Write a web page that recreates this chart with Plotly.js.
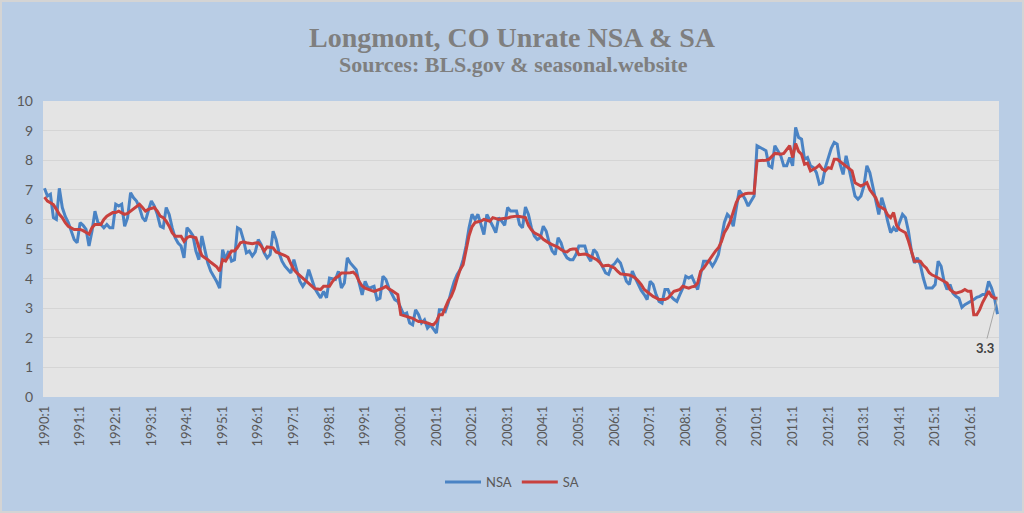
<!DOCTYPE html>
<html>
<head>
<meta charset="utf-8">
<script src="https://cdn.plot.ly/plotly-3.0.1.min.js"></script>
<style>
  html, body { margin: 0; padding: 0; background: #B9CDE5; }
  #wrap { width: 1020px; height: 509px; border: 2px solid #D4D4D4; background: #B9CDE5; }
  #chart { width: 1020px; height: 509px; }
</style>
</head>
<body>
<div id="wrap"><div id="chart"></div></div>
<script>
// Monthly categories 1990:1 .. 2016:10
const startYear = 1990, endYear = 2016, lastMonth = 10;
const categories = [];
for (let y = startYear; y <= endYear; y++) {
  for (let m = 1; m <= 12; m++) {
    if (y === endYear && m > lastMonth) break;
    categories.push(y + ':' + m);
  }
}
const tickLabels = ['1990:1','1991:1','1992:1','1993:1','1994:1','1995:1','1996:1','1997:1','1998:1','1999:1',
  '2000:1','2001:1','2002:1','2003:1','2004:1','2005:1','2006:1','2007:1','2008:1','2009:1',
  '2010:1','2011:1','2012:1','2013:1','2014:1','2015:1','2016:1'];

const nsa = [
  7.05, 6.79, 6.85, 6.06, 6.00, 7.05, 6.40, 6.10, 5.90, 5.60, 5.32, 5.21,
  5.89, 5.80, 5.66, 5.10, 5.60, 6.28, 5.89, 5.83, 5.72, 5.83, 5.72, 5.72,
  6.51, 6.45, 6.51, 5.77, 6.06, 6.90, 6.73, 6.62, 6.40, 6.06, 5.94, 6.30,
  6.62, 6.45, 6.17, 5.77, 5.72, 6.40, 6.17, 5.72, 5.38, 5.20, 5.10, 4.70,
  5.72, 5.60, 5.45, 4.93, 4.64, 5.44, 4.98, 4.53, 4.25, 4.08, 3.90, 3.68,
  4.98, 4.64, 4.93, 4.59, 4.64, 5.72, 5.66, 5.32, 4.87, 4.93, 4.76, 4.90,
  5.32, 5.15, 4.87, 4.70, 4.81, 5.60, 5.32, 4.87, 4.59, 4.42, 4.30, 4.19,
  4.64, 4.25, 3.91, 3.74, 3.90, 4.30, 3.97, 3.68, 3.51, 3.35, 3.57, 3.35,
  4.02, 4.00, 3.97, 4.25, 3.68, 3.85, 4.70, 4.53, 4.42, 4.30, 3.85, 3.45,
  3.91, 3.68, 3.70, 3.74, 3.29, 3.34, 4.08, 3.97, 3.68, 3.46, 3.29, 3.23,
  3.00, 2.78, 2.84, 2.50, 2.44, 2.95, 2.78, 2.50, 2.61, 2.33, 2.44, 2.30,
  2.16, 2.95, 2.95, 2.89, 3.18, 3.57, 3.90, 4.14, 4.30, 4.64, 5.10, 5.72,
  6.17, 6.00, 6.17, 5.83, 5.49, 6.17, 5.94, 5.77, 5.55, 6.06, 5.94, 5.80,
  6.40, 6.28, 6.28, 6.28, 5.83, 5.72, 6.42, 6.17, 5.72, 5.44, 5.32, 5.38,
  5.77, 5.60, 5.21, 4.93, 4.81, 5.38, 5.21, 4.87, 4.70, 4.64, 4.64, 4.81,
  5.10, 5.10, 5.10, 4.76, 4.59, 4.98, 4.87, 4.59, 4.36, 4.19, 4.14, 4.42,
  4.50, 4.64, 4.53, 4.25, 3.91, 3.80, 4.25, 4.02, 3.80, 3.60, 3.46, 3.29,
  3.91, 3.80, 3.46, 3.23, 3.17, 3.63, 3.63, 3.40, 3.30, 3.23, 3.46, 3.68,
  4.08, 4.02, 4.08, 3.85, 3.63, 4.14, 4.59, 4.59, 4.59, 4.42, 4.59, 4.81,
  5.40, 5.90, 6.17, 6.06, 5.77, 6.40, 6.98, 6.85, 6.68, 6.45, 6.62, 6.79,
  8.49, 8.43, 8.38, 8.32, 7.81, 7.75, 8.49, 8.32, 8.15, 7.81, 7.81, 8.09,
  7.81, 9.11, 8.77, 8.71, 8.03, 8.09, 7.81, 7.75, 7.58, 7.19, 7.24, 7.75,
  8.05, 8.40, 8.60, 8.54, 7.86, 7.52, 8.15, 7.69, 7.20, 6.79, 6.68, 6.79,
  7.13, 7.81, 7.58, 7.13, 6.68, 6.17, 6.73, 6.40, 5.94, 5.55, 5.72, 5.60,
  5.90, 6.17, 6.06, 5.60, 4.93, 4.53, 4.70, 4.47, 4.02, 3.68, 3.68, 3.68,
  3.80, 4.59, 4.42, 3.91, 3.63, 3.80, 3.51, 3.40, 3.34, 3.03, 3.12, 3.17,
  3.23, 3.29, 3.37, 3.40, 3.46, 3.46, 3.91, 3.68, 3.34, 2.80
];

const sa = [
  6.75, 6.62, 6.56, 6.50, 6.34, 6.17, 6.06, 5.89, 5.77, 5.70, 5.66, 5.66,
  5.66, 5.62, 5.55, 5.50, 5.72, 5.83, 5.83, 5.83, 6.00, 6.11, 6.17, 6.23,
  6.23, 6.28, 6.22, 6.17, 6.20, 6.28, 6.34, 6.45, 6.51, 6.40, 6.28, 6.34,
  6.38, 6.40, 6.28, 6.11, 6.06, 5.94, 5.77, 5.55, 5.43, 5.43, 5.43, 5.26,
  5.38, 5.43, 5.40, 5.38, 5.05, 4.78, 4.70, 4.64, 4.55, 4.47, 4.40, 4.25,
  4.64, 4.59, 4.75, 4.93, 4.93, 5.05, 5.21, 5.24, 5.21, 5.20, 5.18, 5.20,
  5.21, 5.10, 4.93, 5.07, 5.05, 5.04, 4.90, 4.87, 4.82, 4.78, 4.72, 4.50,
  4.30, 4.19, 4.10, 4.02, 3.91, 3.82, 3.75, 3.66, 3.65, 3.63, 3.74, 3.74,
  3.74, 3.90, 4.02, 4.08, 4.19, 4.19, 4.19, 4.20, 4.22, 4.12, 3.90, 3.75,
  3.68, 3.63, 3.60, 3.57, 3.60, 3.63, 3.68, 3.74, 3.65, 3.60, 3.52, 3.46,
  2.78, 2.75, 2.72, 2.70, 2.66, 2.60, 2.55, 2.55, 2.53, 2.50, 2.46, 2.44,
  2.55, 2.78, 2.78, 3.05, 3.25, 3.40, 3.65, 4.00, 4.30, 4.47, 4.93, 5.45,
  5.75, 5.89, 5.92, 5.94, 6.00, 5.97, 5.94, 6.06, 6.02, 6.00, 6.02, 6.03,
  6.05, 6.08, 6.10, 6.11, 6.10, 6.08, 6.06, 5.80, 5.65, 5.55, 5.50, 5.44,
  5.33, 5.25, 5.20, 5.15, 5.10, 5.06, 4.98, 4.92, 4.90, 4.98, 5.00, 5.00,
  4.81, 4.83, 4.83, 4.80, 4.75, 4.70, 4.64, 4.55, 4.42, 4.44, 4.45, 4.40,
  4.36, 4.25, 4.16, 4.15, 4.14, 4.12, 4.08, 4.02, 3.92, 3.80, 3.63, 3.55,
  3.48, 3.40, 3.35, 3.29, 3.29, 3.29, 3.34, 3.45, 3.57, 3.60, 3.63, 3.74,
  3.70, 3.68, 3.72, 3.74, 3.85, 4.25, 4.35, 4.50, 4.64, 4.80, 4.93, 5.04,
  5.25, 5.55, 5.72, 5.94, 6.23, 6.57, 6.76, 6.82, 6.87, 6.88, 6.88, 6.88,
  7.98, 7.98, 7.98, 8.00, 8.03, 8.15, 8.23, 8.22, 8.20, 8.23, 8.35, 8.49,
  8.09, 8.56, 8.30, 8.20, 7.86, 7.90, 7.64, 7.70, 7.75, 7.84, 7.70, 7.64,
  7.75, 7.72, 8.03, 8.03, 7.95, 7.86, 7.80, 7.70, 7.64, 7.24, 7.18, 7.13,
  7.18, 7.24, 7.00, 6.85, 6.73, 6.45, 6.40, 6.34, 6.15, 6.06, 6.23, 5.80,
  5.66, 5.60, 5.55, 5.27, 4.93, 4.59, 4.59, 4.59, 4.45, 4.36, 4.20, 4.12,
  4.08, 4.02, 3.97, 3.90, 3.85, 3.63, 3.55, 3.51, 3.54, 3.57, 3.63, 3.57,
  3.57, 2.78, 2.78, 2.95, 3.20, 3.40, 3.57, 3.40, 3.34, 3.34
];

const lastLabel = '3.3';

const gray = '#7F7F7F';
const axisFont = { family: 'Lato, "Open Sans", sans-serif', size: 13, color: '#595959' };

const traces = [
  { x: categories, y: nsa, type: 'scatter', mode: 'lines', name: 'NSA',
    line: { color: '#4A83C4', width: 3 }, hoverinfo: 'x+y' },
  { x: categories, y: sa, type: 'scatter', mode: 'lines', name: 'SA',
    line: { color: '#C8413E', width: 3 }, hoverinfo: 'x+y' }
];

const layout = {
  width: 1020, height: 509,
  margin: { l: 41, r: 23, t: 99, b: 114, autoexpand: false },
  paper_bgcolor: '#B9CDE5',
  plot_bgcolor: '#E4E4E4',
  showlegend: true,
  legend: { orientation: 'h', x: 0.5, xanchor: 'center', xref: 'container',
            y: 0.057, yanchor: 'middle', yref: 'container',
            font: axisFont, bgcolor: 'rgba(0,0,0,0)', itemwidth: 36, traceorder: 'normal' },
  xaxis: {
    type: 'category',
    automargin: false,
    range: [-0.5, categories.length - 0.5],
    tickmode: 'array',
    tickvals: tickLabels, ticktext: tickLabels,
    tickangle: -90,
    tickfont: axisFont,
    showgrid: false, zeroline: false, showline: false,
    ticks: '', ticklen: 0, ticklabelstandoff: 5
  },
  yaxis: {
    automargin: false,
    range: [0, 10], dtick: 1,
    tickfont: { family: 'Lato, "Open Sans", sans-serif', size: 14, color: '#595959' },
    showgrid: true, gridcolor: '#D5D5D5', gridwidth: 1,
    zeroline: false, showline: false, ticks: '', ticklen: 0, ticklabelstandoff: 9
  },
  annotations: [
    { text: '<b>Longmont, CO Unrate NSA &amp; SA</b>', xref: 'paper', yref: 'paper',
      x: 0.4906, y: 1, xanchor: 'center', yanchor: 'bottom', yshift: 46, showarrow: false,
      font: { family: '"Liberation Serif", serif', size: 28, color: gray } },
    { text: '<b>Sources: BLS.gov &amp; seasonal.website</b>', xref: 'paper', yref: 'paper',
      x: 0.4926, y: 1, xanchor: 'center', yanchor: 'bottom', yshift: 22, showarrow: false,
      font: { family: '"Liberation Serif", serif', size: 22, color: gray } },
    { text: '<b>' + lastLabel + '</b>', xref: 'x', yref: 'y',
      x: categories[categories.length - 1], y: sa[sa.length - 1],
      showarrow: true, arrowhead: 0, arrowwidth: 1, arrowcolor: '#A6A6A6',
      ax: -13, ay: 50, standoff: 0,
      font: { family: 'Lato, "Open Sans", sans-serif', size: 13, color: '#404040' } }
  ]
};

Plotly.newPlot('chart', traces, layout, { displayModeBar: false, staticPlot: true });
</script>
</body>
</html>
